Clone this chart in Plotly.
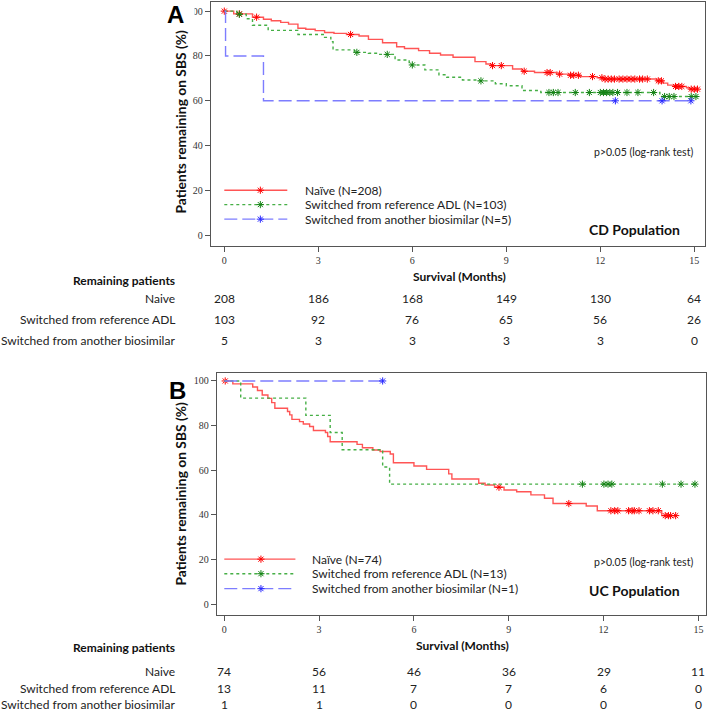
import numpy as np
import plotly.graph_objects as go

W, H = 708, 713

# ---------------- data ----------------
months = [0, 3, 6, 9, 12, 15]

# CD population (panel A) - Kaplan-Meier steps (time of drop, survival after drop)
cd_naive_t = [0, 0.3, 0.9, 1.25, 1.5, 1.8, 2.05, 2.35, 2.6, 2.9, 3.2, 3.5, 3.9, 4.3, 4.6, 5.05, 5.5, 5.75, 6.2, 6.55,
              6.9, 7.3, 8.0, 8.35, 8.5, 9.2, 9.5, 9.9, 10.6, 11.0, 11.35, 11.9, 12.1, 13.8, 14.0, 14.15, 14.35, 14.75, 14.85]
cd_naive_s = [100, 98.8, 97.3, 96.4, 95.7, 95.0, 94.2, 92.4, 91.9, 91.3, 90.5, 90.1, 89.6, 88.9, 87.4, 85.9, 84.1, 83.3, 82.4, 81.2,
              80.4, 79.4, 77.5, 76.4, 75.7, 74.2, 73.2, 72.6, 71.9, 71.4, 70.8, 70.3, 69.7, 68.9, 67.9, 67.0, 66.4, 65.8, 65.2]
cd_naive_end = 15.12
cd_naive_cens = [0.0, 0.48, 1.03, 4.03, 8.56, 8.84, 9.57, 10.3, 10.4, 10.7, 11.05, 11.15, 11.3, 11.75, 12.05, 12.15,
                 12.25, 12.35, 12.45, 12.6, 12.72, 12.85, 12.98, 13.1, 13.25, 13.35, 13.5, 13.85, 13.95, 14.4, 14.5,
                 14.6, 14.9, 15.0, 15.1]

cd_adl_t = [0, 0.4, 0.7, 0.9, 1.4, 2.35, 3.2, 3.4, 3.47, 4.15, 4.6, 4.9, 5.45, 5.9, 6.4, 6.85, 7.1, 7.6, 8.1, 8.65,
            9.0, 9.5, 10.1, 13.9]
cd_adl_s = [100, 98.6, 96.6, 93.7, 91.4, 89.6, 88.3, 86.4, 82.7, 81.6, 81.2, 80.7, 78.2, 76.0, 73.8, 71.6, 70.5, 69.3,
            68.9, 67.6, 66.7, 64.6, 63.7, 61.9]
cd_adl_end = 15.1
cd_adl_cens = [0.48, 4.23, 5.2, 6.0, 8.19, 10.36, 10.5, 10.65, 11.2, 11.65, 12.0, 12.1, 12.2, 12.3, 12.4, 12.55,
               12.85, 13.2, 13.7, 14.05, 14.2, 14.35, 14.9, 15.05]

cd_bio_t = [0, 0.04, 1.25]
cd_bio_s = [100, 80, 60]
cd_bio_end = 14.89
cd_bio_cens = [12.48, 13.97, 14.89]

# UC population (panel B)
uc_naive_t = [0, 0.27, 0.9, 1.05, 1.2, 1.38, 1.5, 1.6, 2.0, 2.07, 2.14, 2.38, 2.5, 2.7, 2.82, 3.2, 3.27, 3.35, 4.2,
              4.37, 4.7, 4.93, 5.25, 5.35, 6.0, 6.4, 7.1, 7.2, 8.05, 8.25, 8.55, 8.85, 9.25, 9.7, 10.13, 10.4, 11.45,
              11.8, 13.84]
uc_naive_s = [100, 98.7, 97.3, 95.7, 93.7, 92.2, 90.3, 87.8, 86.3, 84.8, 82.8, 81.8, 80.7, 79.6, 77.8, 76.9, 75.1,
              72.8, 71.6, 70.1, 69.1, 68.4, 67.3, 63.4, 61.9, 60.4, 58.4, 56.1, 54.2, 53.4, 52.4, 51.2, 50.4, 49.0,
              47.5, 45.1, 44.0, 41.9, 39.7]
uc_naive_end = 14.3
uc_naive_cens = [0.03, 8.69, 10.9, 12.23, 12.35, 12.45, 12.79, 12.9, 12.97, 13.12, 13.45, 13.56, 13.73, 13.95,
                 14.05, 14.12, 14.28]

uc_adl_t = [0, 0.52, 2.58, 3.35, 3.73, 5.01, 5.23]
uc_adl_s = [100, 92.3, 84.6, 76.9, 69.2, 61.5, 53.8]
uc_adl_end = 14.89
uc_adl_cens = [11.33, 12.01, 12.14, 12.26, 13.86, 14.45, 14.89]

uc_bio_t = [0]
uc_bio_s = [100]
uc_bio_end = 5.01
uc_bio_cens = [5.01]

# risk tables
row_labels = ["Naive", "Switched from reference ADL", "Switched from another biosimilar"]
cd_risk_naive = [208, 186, 168, 149, 130, 64]
cd_risk_adl = [103, 92, 76, 65, 56, 26]
cd_risk_bio = [5, 3, 3, 3, 3, 0]
uc_risk_naive = [74, 56, 46, 36, 29, 11]
uc_risk_adl = [13, 11, 7, 7, 6, 0]
uc_risk_bio = [1, 1, 0, 0, 0, 0]

cd_legend = ["Naïve (N=208)", "Switched from reference ADL (N=103)", "Switched from another biosimilar (N=5)"]
uc_legend = ["Naïve (N=74)", "Switched from reference ADL (N=13)", "Switched from another biosimilar (N=1)"]

# ---------------- styling ----------------
SANS = "Lato"
SERIF = "Liberation Serif, Times New Roman, serif"
styles = [
    dict(line=dict(color="rgb(255,85,85)", width=1.4, dash="solid"), mcolor="rgb(255,0,0)"),
    dict(line=dict(color="rgb(70,175,70)", width=1.4, dash="3px,3px"), mcolor="rgb(20,130,20)"),
    dict(line=dict(color="rgb(125,125,255)", width=1.4, dash="13px,5px"), mcolor="rgb(40,40,255)"),
]


def px(x):
    return x / W


def py(y):
    return 1 - y / H


fig = go.Figure()


def star_marker(st, size=6):
    return dict(symbol="asterisk-open", size=size, color=st["mcolor"],
                line=dict(color=st["mcolor"], width=1))


def add_curve(t, s, end, cens, st, xa, ya):
    xs = list(t) + [end]
    ys = list(s) + [s[-1]]
    fig.add_trace(go.Scatter(x=xs, y=ys, mode="lines", line=dict(**st["line"], shape="hv"),
                             xaxis=xa, yaxis=ya, showlegend=False, hoverinfo="skip"))
    idx = np.searchsorted(np.array(t), np.array(cens), side="right") - 1
    cy = [s[i] for i in idx]
    fig.add_trace(go.Scatter(x=cens, y=cy, mode="markers", marker=star_marker(st),
                             xaxis=xa, yaxis=ya, showlegend=False, hoverinfo="skip"))


ann = []


def add_legend(labels, xa, ya, x0, x1, xm, xt, rows):
    for lab, st, yv in zip(labels, styles, rows):
        fig.add_trace(go.Scatter(x=[x0, x1], y=[yv, yv], mode="lines", line=dict(**st["line"]),
                                 xaxis=xa, yaxis=ya, showlegend=False, hoverinfo="skip"))
        fig.add_trace(go.Scatter(x=[xm], y=[yv], mode="markers", marker=star_marker(st),
                                 xaxis=xa, yaxis=ya, showlegend=False, hoverinfo="skip"))
        ann.append(dict(x=xt, y=yv, xref=xa, yref=ya, text=lab, showarrow=False, xanchor="left",
                        yanchor="middle", font=dict(family=SANS, size=12, color="#222")))


# panel A curves
add_curve(cd_naive_t, cd_naive_s, cd_naive_end, cd_naive_cens, styles[0], "x", "y")
add_curve(cd_adl_t, cd_adl_s, cd_adl_end, cd_adl_cens, styles[1], "x", "y")
add_curve(cd_bio_t, cd_bio_s, cd_bio_end, cd_bio_cens, styles[2], "x", "y")
# panel B curves
add_curve(uc_naive_t, uc_naive_s, uc_naive_end, uc_naive_cens, styles[0], "x2", "y2")
add_curve(uc_adl_t, uc_adl_s, uc_adl_end, uc_adl_cens, styles[1], "x2", "y2")
add_curve(uc_bio_t, uc_bio_s, uc_bio_end, uc_bio_cens, styles[2], "x2", "y2")

# in-plot legends (drawn in data coordinates of each panel)
add_legend(cd_legend, "x", "y", 0.0, 2.01, 1.15, 2.52, [20.1, 13.7, 7.2])
add_legend(uc_legend, "x2", "y2", 0.0, 2.25, 1.16, 2.71, [20.2, 13.7, 7.0])

axis_common = dict(showgrid=False, zeroline=False, showline=True, mirror=True, linecolor="#555", linewidth=1,
                   ticks="outside", ticklen=5, tickcolor="#555", tickwidth=1,
                   tickfont=dict(family=SERIF, size=10, color="#333"))

fig.update_layout(
    width=W, height=H, margin=dict(l=0, r=0, t=0, b=0),
    paper_bgcolor="white", plot_bgcolor="white", showlegend=False,
    xaxis=dict(domain=[px(210.7), px(705)], range=[-0.434, 15.34], tickvals=months, anchor="y", **axis_common),
    yaxis=dict(domain=[py(245.5), py(1.5)], range=[-4.55, 104.3], tickvals=[0, 20, 40, 60, 80, 100], anchor="x",
               **axis_common),
    xaxis2=dict(domain=[px(216.7), px(705.7)], range=[-0.24, 15.23], tickvals=months, anchor="y2", **axis_common),
    yaxis2=dict(domain=[py(615), py(372.7)], range=[-4.8, 103.7], tickvals=[0, 20, 40, 60, 80, 100], anchor="x2",
                **axis_common),
)

bold = dict(family=SANS, size=12, color="#111")
# panel letters
ann.append(dict(x=px(195), y=py(15), xref="paper", yref="paper", text="<b>A</b>", showarrow=False,
                xanchor="right", yanchor="middle", width=27, align="left", bgcolor="white", borderpad=0,
                font=dict(family="Liberation Sans", size=24, color="black")))
ann.append(dict(x=px(177), y=py(390), xref="paper", yref="paper", text="<b>B</b>", showarrow=False,
                xanchor="center", yanchor="middle", font=dict(family="Liberation Sans", size=24, color="black")))
# y axis titles
for yc in (121.5, 493.5):
    ann.append(dict(x=px(180), y=py(yc), xref="paper", yref="paper", text="<b>Patients remaining on SBS (%)</b>",
                    showarrow=False, textangle=-90, xanchor="center", yanchor="middle",
                    font=dict(family=SANS, size=13.8, color="#111")))
# x axis titles
ann.append(dict(x=px(459), y=py(276), xref="paper", yref="paper", text="<b>Survival (Months)</b>", showarrow=False,
                xanchor="center", yanchor="middle", font=bold))
ann.append(dict(x=px(462), y=py(645), xref="paper", yref="paper", text="<b>Survival (Months)</b>", showarrow=False,
                xanchor="center", yanchor="middle", font=bold))
# p-values and population labels
for yv in (151.7, 561.7):
    ann.append(dict(x=px(695), y=py(yv), xref="paper", yref="paper", text="p>0.05 (log-rank test)",
                    showarrow=False, xanchor="right", yanchor="middle",
                    font=dict(family=SANS, size=10.5, color="#222")))
ann.append(dict(x=px(682), y=py(230), xref="paper", yref="paper", text="<b>CD Population</b>", showarrow=False,
                xanchor="right", yanchor="middle", font=dict(family=SANS, size=14, color="#111")))
ann.append(dict(x=px(682), y=py(590.7), xref="paper", yref="paper", text="<b>UC Population</b>", showarrow=False,
                xanchor="right", yanchor="middle", font=dict(family=SANS, size=14, color="#111")))

# risk tables
reg = dict(family=SANS, size=12, color="#222")


def risk_table(xref, head_y, row_ys, risks):
    ann.append(dict(x=px(177), y=py(head_y), xref="paper", yref="paper", text="<b>Remaining patients</b>",
                    showarrow=False, xanchor="right", yanchor="middle", font=bold))
    for lab, ry, vals in zip(row_labels, row_ys, risks):
        ann.append(dict(x=px(177), y=py(ry), xref="paper", yref="paper", text=lab, showarrow=False,
                        xanchor="right", yanchor="middle", font=reg))
        for m, v in zip(months, vals):
            ann.append(dict(x=m, y=py(ry), xref=xref, yref="paper", text=str(v), showarrow=False,
                            xanchor="center", yanchor="middle", font=reg))


risk_table("x", 280, [298.5, 319.5, 340.5], [cd_risk_naive, cd_risk_adl, cd_risk_bio])
risk_table("x2", 647, [671, 688, 704], [uc_risk_naive, uc_risk_adl, uc_risk_bio])

for a in ann:
    fig.add_annotation(**a)

fig.write_html("out.html",
               config={"displayModeBar": False, "staticPlot": True},
               post_script="document.body.style.margin='0';document.body.style.padding='0';"
                           "document.body.style.overflow='hidden';")
